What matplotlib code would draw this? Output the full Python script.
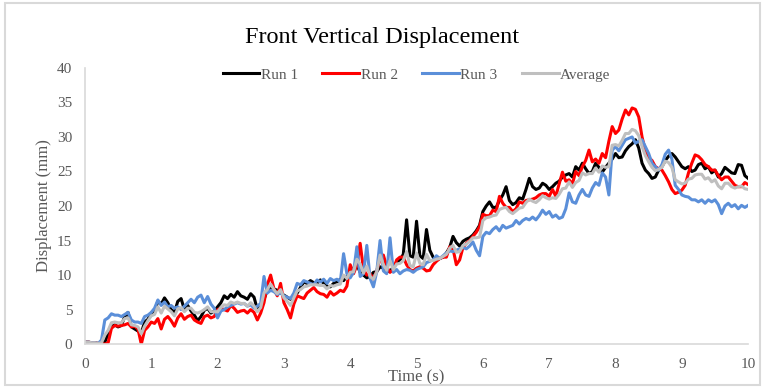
import numpy as np
import matplotlib.pyplot as plt
from matplotlib.patches import Rectangle

# time axis, 0.05 s steps
t = np.round(np.arange(0, 10.0001, 0.05), 2)

run1 = [0.3, 0.3, 0.2, 0.2, 0.1, 0.1, 0.3, 1.5, 2.5, 2.8, 2.5, 2.7, 4.0, 4.6, 2.5, 2.2, 1.9, 1.6, 3.2, 3.6,
        4.5, 4.8, 6.2, 5.8, 6.7, 6.0, 5.0, 4.6, 6.2, 6.6, 5.0, 5.6, 4.8, 4.2, 3.4, 4.0, 4.9, 5.2, 4.5, 4.8,
        5.4, 6.0, 7.0, 6.6, 7.2, 6.8, 7.6, 7.0, 6.8, 6.5, 7.3, 6.8, 5.0, 5.6, 6.5, 7.8, 8.3, 8.0, 7.8, 7.4,
        7.1, 6.8, 6.5, 7.0, 7.4, 8.2, 9.0, 8.8, 9.2, 8.9, 8.8, 9.3, 8.8, 8.4, 8.3, 8.8, 9.0, 9.4, 9.2, 9.8,
        10.2, 11.0, 11.5, 10.4, 10.0, 9.6, 9.8, 10.4, 10.5, 11.2, 11.0, 10.6, 10.5, 11.2, 11.8, 12.2, 13.0, 18.0, 12.8, 12.6,
        17.8, 12.8, 12.4, 16.6, 13.6, 12.6, 12.2, 12.4, 12.6, 13.2, 14.0, 15.6, 14.7, 14.2, 14.9, 15.2, 15.4, 15.8, 16.4, 17.2,
        19.2, 20.0, 20.6, 19.8, 19.8, 20.8, 21.6, 22.8, 20.8, 20.2, 20.5, 21.2, 21.0, 22.4, 24.0, 22.8, 22.4, 22.6, 23.3, 23.0,
        22.4, 22.8, 23.3, 23.6, 24.2, 24.5, 24.7, 24.2, 25.7, 25.2, 26.2, 25.4, 24.7, 25.0, 26.2, 25.6, 24.9, 25.6, 26.2, 26.8,
        27.6, 27.0, 27.1, 28.0, 28.6, 29.0, 29.6, 28.4, 26.2, 25.2, 24.7, 24.0, 24.2, 25.2, 25.7, 26.6, 27.2, 27.6, 27.1, 26.4,
        25.7, 25.4, 25.7, 25.0, 25.2, 26.0, 26.2, 25.4, 25.7, 24.8, 25.2, 24.2, 24.7, 25.6, 25.2, 24.8, 24.7, 26.0, 25.9, 24.4,
        24.0]

run2 = [0.3, 0.3, 0.2, 0.2, 0.1, 0.1, 0.0, 0.2, 2.3, 2.7, 2.6, 2.7, 2.8, 3.0, 2.5, 2.6, 2.2, 0.0, 2.0, 2.5,
        3.2, 3.0, 3.7, 2.2, 3.6, 4.0, 3.4, 2.6, 3.8, 4.4, 3.6, 4.0, 4.2, 3.5, 3.2, 3.0, 4.0, 4.2, 3.8, 4.0,
        5.0, 5.2, 5.0, 4.8, 5.6, 5.2, 4.6, 4.8, 4.9, 4.5, 5.0, 4.6, 3.5, 4.5, 6.0, 8.6, 10.0, 8.0, 7.0, 8.8,
        6.0, 5.0, 3.8, 5.8, 7.0, 6.8, 6.6, 7.4, 7.8, 8.2, 7.6, 7.3, 7.2, 6.8, 7.6, 7.1, 7.4, 7.8, 7.6, 8.4,
        11.5, 10.2, 11.4, 14.6, 10.8, 10.0, 10.2, 9.4, 10.6, 12.4, 12.9, 11.2, 10.4, 10.8, 12.2, 12.6, 12.6, 11.5, 10.8, 10.6,
        11.0, 11.2, 11.0, 10.6, 10.7, 11.5, 12.0, 12.4, 12.6, 12.6, 14.1, 13.8, 11.5, 12.2, 14.0, 14.6, 15.0, 15.6, 16.2, 17.0,
        18.8, 18.6, 18.6, 19.4, 19.2, 21.4, 20.4, 19.8, 19.8, 19.2, 19.6, 20.6, 20.4, 20.8, 20.9, 21.0, 21.2, 21.6, 21.8, 21.8,
        21.4, 22.4, 21.4, 23.2, 24.9, 23.6, 23.8, 23.2, 25.0, 24.4, 25.7, 26.6, 28.1, 26.4, 26.8, 26.2, 27.6, 27.0, 29.4, 31.5,
        30.5, 31.0, 32.6, 33.9, 33.2, 34.2, 34.0, 32.9, 30.0, 28.0, 27.0, 26.6, 25.7, 25.4, 25.2, 24.4, 23.5, 22.4, 21.8, 22.0,
        22.3, 23.0, 24.8, 26.2, 27.4, 27.2, 26.7, 26.0, 25.7, 25.2, 25.2, 24.4, 23.8, 24.2, 24.2, 23.6, 23.0, 22.8, 22.8, 23.4,
        23.1]

run3 = [0.3, 0.3, 0.2, 0.2, 0.1, 0.6, 3.5, 3.8, 4.4, 4.2, 4.2, 4.0, 4.3, 4.6, 3.5, 3.2, 3.2, 3.0, 4.0, 4.2,
        4.6, 5.2, 6.4, 5.6, 6.1, 5.4, 5.6, 5.2, 5.4, 5.0, 5.5, 6.0, 6.5, 6.0, 6.8, 7.1, 6.0, 6.9, 5.8, 5.2,
        3.8, 4.8, 5.0, 5.4, 5.6, 5.8, 6.0, 5.8, 5.9, 5.5, 5.7, 5.2, 5.5, 5.9, 9.8, 7.4, 7.8, 7.6, 7.2, 7.4,
        7.0, 6.8, 6.6, 7.4, 8.8, 8.6, 9.2, 9.0, 8.8, 8.6, 9.3, 9.0, 9.4, 8.8, 9.5, 9.2, 9.4, 9.0, 13.1, 10.2,
        9.6, 10.4, 14.1, 9.8, 10.2, 14.3, 9.5, 8.3, 10.5, 15.0, 10.6, 10.2, 15.4, 10.4, 10.8, 10.2, 10.6, 10.8, 10.7, 10.4,
        10.8, 11.0, 11.2, 11.8, 12.0, 12.2, 12.8, 12.4, 12.8, 13.2, 13.5, 13.4, 13.6, 13.8, 14.0, 13.8, 14.2, 14.8, 13.6, 12.8,
        15.6, 16.2, 16.0, 16.6, 17.0, 16.4, 17.2, 16.8, 17.0, 17.2, 17.9, 17.4, 17.9, 18.2, 18.0, 18.4, 18.0, 18.6, 19.4, 18.8,
        19.2, 18.4, 18.7, 18.2, 18.4, 19.6, 21.9, 20.6, 20.4, 21.6, 22.4, 21.6, 21.4, 22.6, 23.4, 23.0, 24.8, 24.2, 21.6, 28.1,
        28.6, 28.0, 28.8, 29.6, 29.8, 30.0, 29.1, 29.4, 29.6, 28.6, 27.6, 26.2, 25.7, 25.2, 26.0, 27.5, 28.1, 26.8, 23.0, 22.4,
        21.6, 21.4, 21.3, 20.9, 20.9, 20.6, 20.9, 20.4, 20.9, 20.6, 20.9, 20.2, 18.9, 20.0, 20.4, 19.9, 20.2, 19.6, 20.1, 19.8,
        20.1]

average = [0.3, 0.3, 0.2, 0.2, 0.1, 0.2, 1.3, 2.0, 3.1, 3.2, 3.1, 3.1, 3.7, 3.8, 2.8, 2.7, 2.5, 1.5, 2.6, 3.4,
           4.1, 4.3, 5.4, 4.5, 5.5, 5.1, 4.7, 4.1, 5.1, 5.3, 4.7, 5.2, 5.2, 4.6, 4.5, 4.7, 5.0, 5.4, 4.7, 4.7,
           4.7, 5.3, 5.7, 5.6, 6.1, 5.9, 6.1, 5.9, 5.9, 5.5, 6.0, 5.5, 4.7, 5.3, 7.4, 7.9, 8.7, 7.9, 7.3, 7.9,
           6.7, 6.2, 5.6, 6.7, 7.7, 7.9, 8.3, 8.4, 8.6, 8.6, 8.6, 8.5, 8.5, 8.0, 8.5, 8.4, 8.6, 8.7, 10.0, 9.5,
           10.4, 10.5, 12.3, 11.6, 10.3, 11.3, 9.8, 9.4, 10.5, 12.9, 11.5, 10.7, 12.1, 10.8, 11.6, 11.7, 12.1, 13.4, 11.4, 11.2,
           13.2, 11.7, 11.5, 13.0, 12.1, 12.1, 12.3, 12.4, 12.7, 13.0, 13.9, 14.3, 13.3, 13.4, 14.3, 14.5, 14.9, 15.4, 15.4, 15.5,
           17.9, 18.3, 18.4, 18.6, 18.7, 19.5, 19.7, 19.8, 19.2, 18.9, 19.3, 19.7, 19.8, 20.5, 21.0, 20.7, 20.5, 20.9, 21.5, 21.2,
           21.0, 21.2, 21.1, 21.7, 22.5, 22.6, 23.5, 22.7, 23.4, 23.7, 24.8, 24.5, 24.7, 24.7, 25.5, 24.9, 25.8, 25.6, 25.7, 28.8,
           28.9, 28.7, 29.5, 30.5, 30.5, 31.1, 30.9, 30.2, 28.6, 27.3, 26.4, 25.6, 25.1, 25.3, 25.6, 26.5, 26.3, 25.6, 23.8, 23.5,
           23.2, 23.3, 23.9, 24.0, 24.5, 24.6, 24.6, 23.9, 24.1, 23.5, 23.8, 22.9, 22.5, 23.3, 23.3, 22.8, 22.6, 22.8, 22.9, 22.5,
           22.4]

plt.rcParams['font.family'] = ['Liberation Serif', 'DejaVu Serif']

fig = plt.figure(figsize=(7.65, 3.88), dpi=100)
ax = fig.add_axes([0.111, 0.113, 0.867, 0.712])

ax.plot(t, run1, color='black', lw=2.2, label='Run 1')
ax.plot(t, run2, color='#ff0000', lw=2.2, label='Run 2')
ax.plot(t, run3, color='#5b8fd9', lw=2.2, label='Run 3')
ax.plot(t, average, color='#bfbfbf', lw=2.2, label='Average')

ax.set_xlim(0, 10)
ax.set_ylim(0, 40)
ax.set_xticks(range(0, 11))
ax.set_yticks(range(0, 41, 5))
ax.tick_params(length=0, labelsize=11, colors='#595959')
ax.tick_params(axis='x', pad=10)
ax.tick_params(axis='y', pad=9)
for s in ['top', 'right']:
    ax.spines[s].set_visible(False)
for s in ['left', 'bottom']:
    ax.spines[s].set_color('#d9d9d9')
    ax.spines[s].set_linewidth(1.2)

ax.set_xlabel('Time (s)', fontsize=12, color='#595959', labelpad=-1)
ax.set_ylabel('Displacement (mm)', fontsize=12, color='#595959', labelpad=4)
fig.suptitle('Front Vertical Displacement', fontsize=17.5, y=0.93)

ax.legend(loc='upper center', bbox_to_anchor=(0.5, 1.05), ncol=4, frameon=False,
          fontsize=11, handlelength=2.4, handletextpad=0.1, columnspacing=1.6,
          labelcolor='#595959')

# chart area border
fig.patches.append(Rectangle((0.006, 0.008), 0.988, 0.984, transform=fig.transFigure,
                             fill=False, edgecolor='#d9d9d9', lw=1.5))

fig.savefig('out.png', dpi=100)
